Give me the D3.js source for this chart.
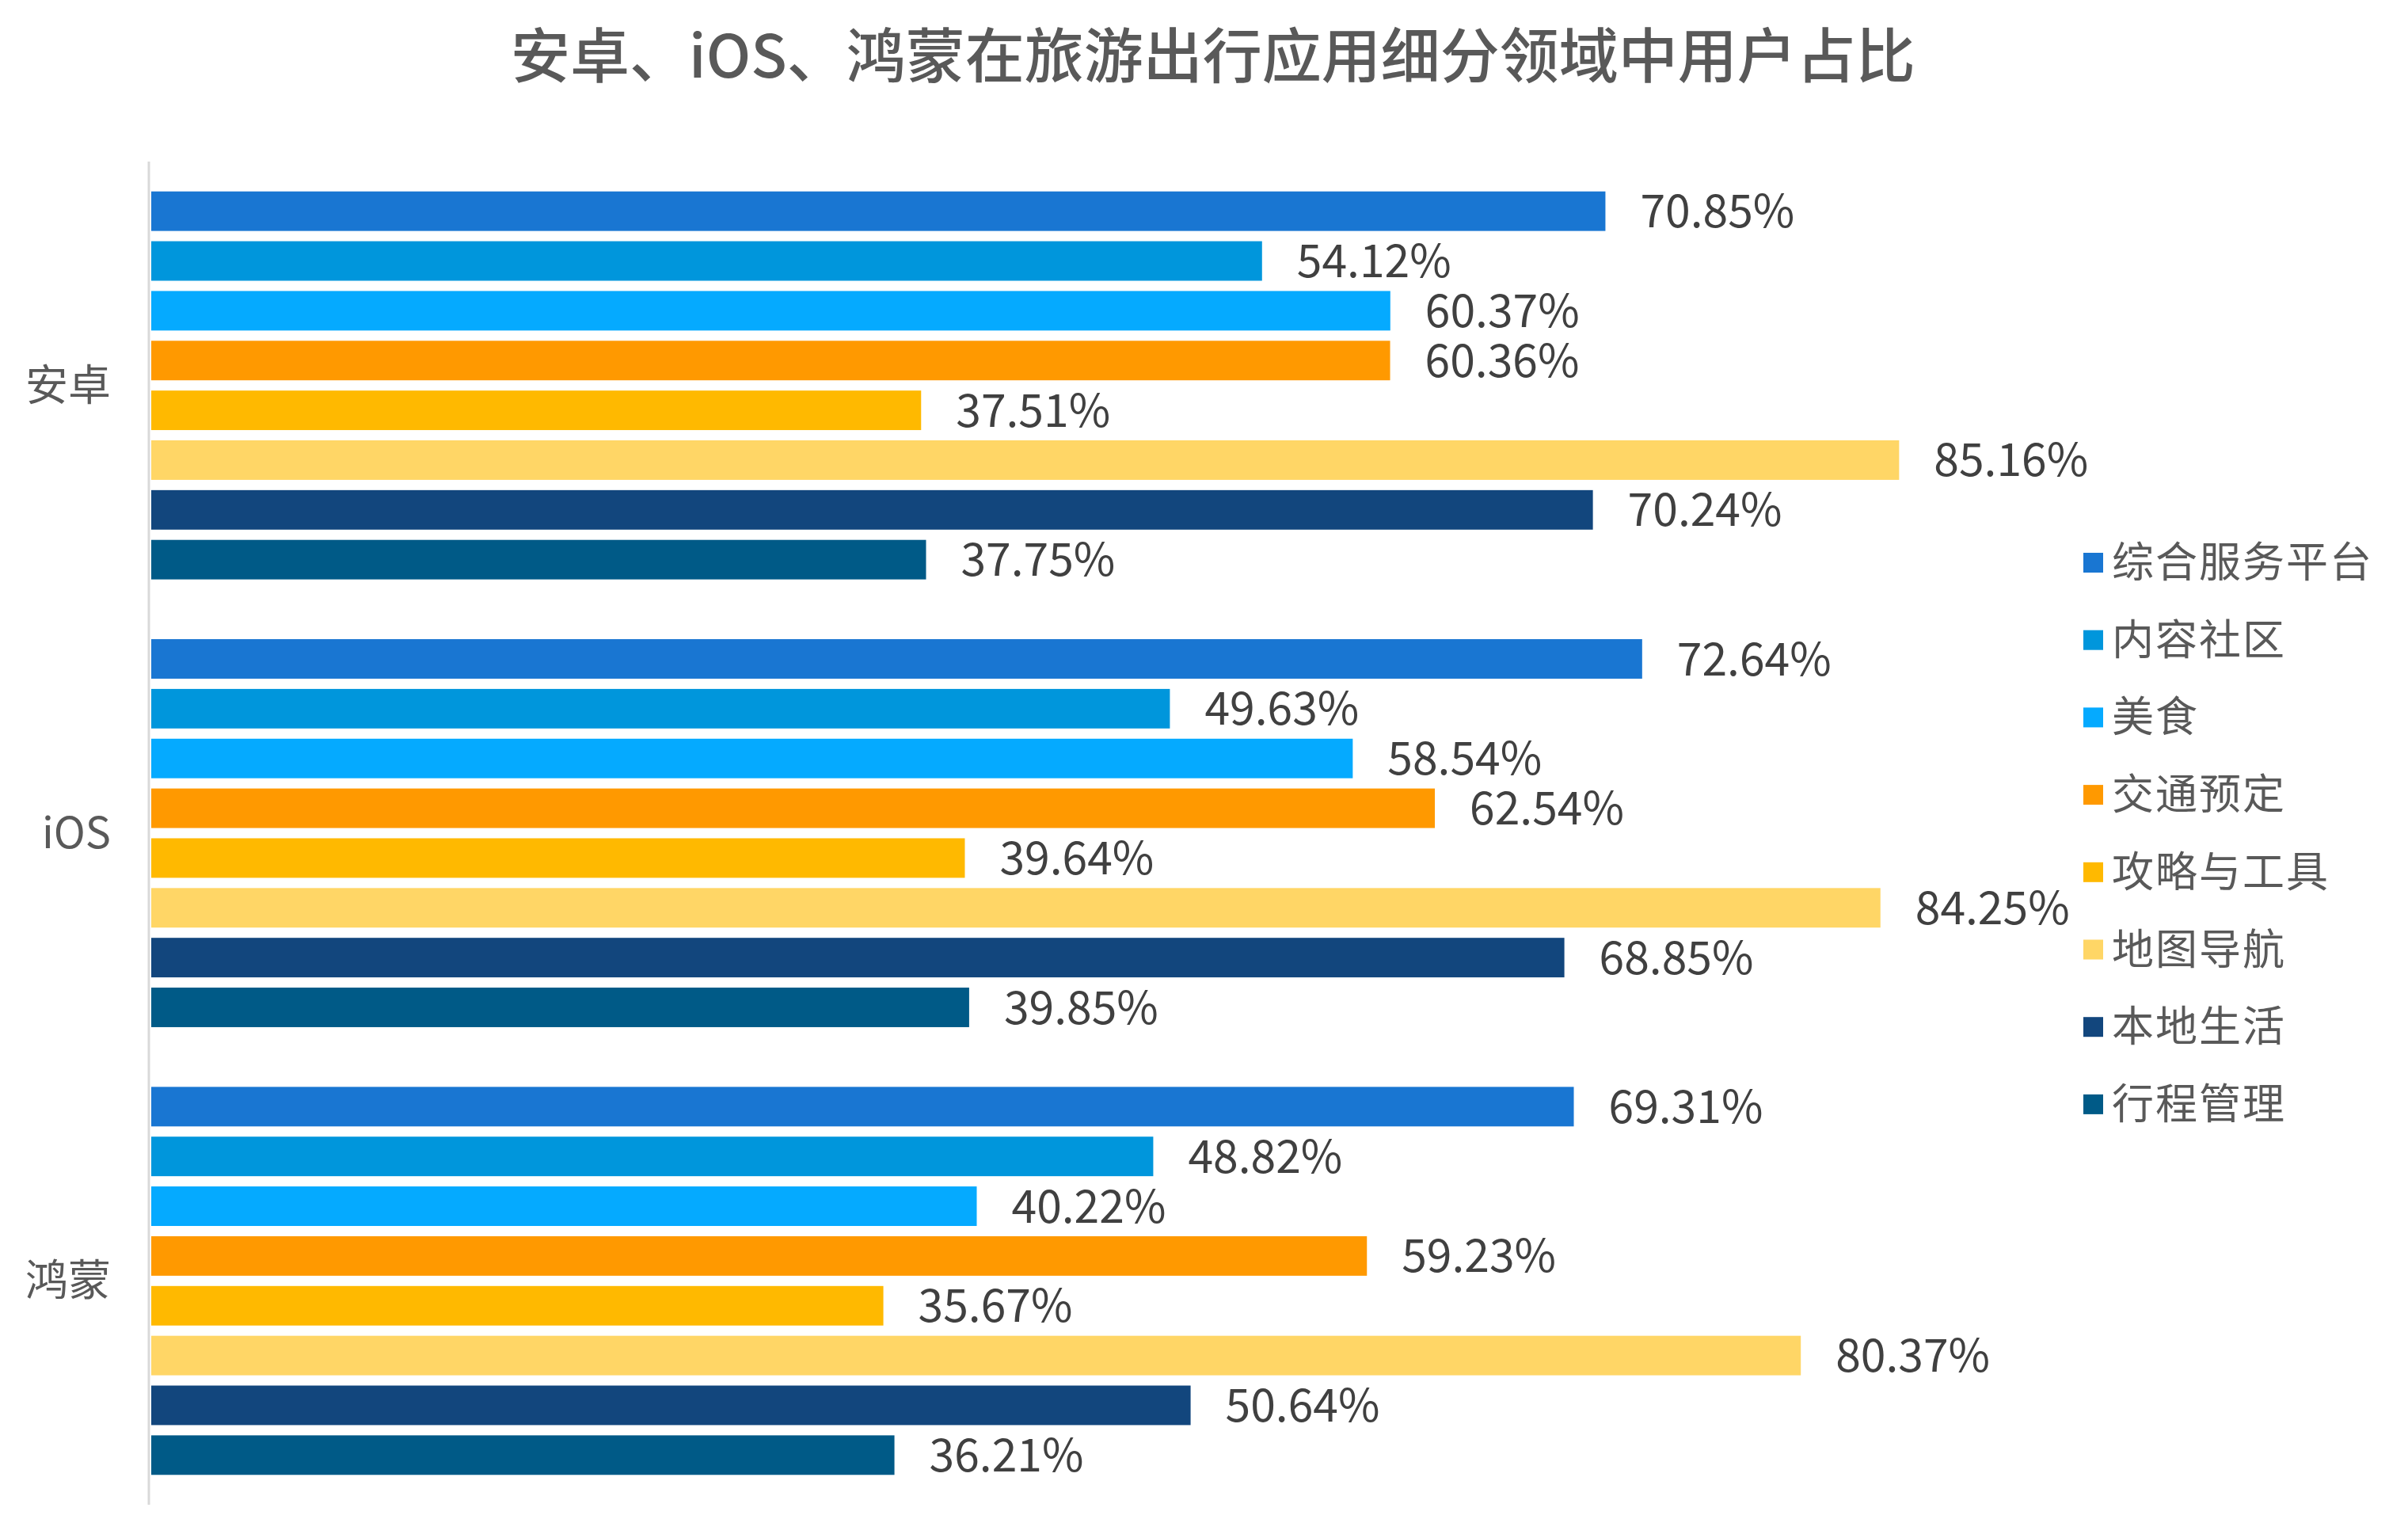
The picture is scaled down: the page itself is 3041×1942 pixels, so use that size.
<!DOCTYPE html>
<meta charset="utf-8">
<title>安卓、iOS、鸿蒙在旅游出行应用细分领域中用户占比</title>
<style>
  body { margin: 0; background: #fff; }
  text { font-family: "Noto Sans CJK SC", "Noto Sans", sans-serif; }
</style>
<body>
<script src="https://d3js.org/d3.v7.min.js"></script>
<script>

const platforms = ["安卓", "iOS", "鸿蒙"];
const segments = ["综合服务平台", "内容社区", "美食", "交通预定", "攻略与工具", "地图导航", "本地生活", "行程管理"];
const android = [70.85, 54.12, 60.37, 60.36, 37.51, 85.16, 70.24, 37.75];
const ios     = [72.64, 49.63, 58.54, 62.54, 39.64, 84.25, 68.85, 39.85];
const harmony = [69.31, 48.82, 40.22, 59.23, 35.67, 80.37, 50.64, 36.21];
const colors = ["#1976d2", "#0096dc", "#05aaff", "#ff9900", "#ffb900", "#ffd666", "#12467d", "#005a87"];

const width = 3041, height = 1942;

const series = [android, ios, harmony];
const rows = [];
platforms.forEach((p, i) => {
  segments.forEach((s, j) => rows.push({platform: p, segment: s, value: series[i][j]}));
});

const svg = d3.select("body").append("svg")
    .attr("width", width)
    .attr("height", height);

// title
svg.append("text")
    .attr("x", 1532)
    .attr("y", 98)
    .attr("text-anchor", "middle")
    .attr("font-size", 75)
    .attr("font-weight", 500)
    .attr("fill", "#595959")
    .text("安卓、iOS、鸿蒙在旅游出行应用细分领域中用户占比");

const x = d3.scaleLinear().domain([0, 100]).range([191, 2783]);
const y0 = d3.scaleBand().domain(platforms).range([204, 1900]);
const y1 = d3.scaleBand().domain(segments).range([0, y0.bandwidth()])
    .paddingInner(0.206).paddingOuter(0.6);

// category axis line
svg.append("line")
    .attr("x1", 188).attr("x2", 188)
    .attr("y1", 204).attr("y2", 1900)
    .attr("stroke", "#d9d9d9")
    .attr("stroke-width", 3);

svg.append("g").selectAll("text")
  .data(platforms)
  .join("text")
    .attr("x", 140)
    .attr("y", d => y0(d) + y0.bandwidth() / 2)
    .attr("dy", "0.35em")
    .attr("text-anchor", "end")
    .attr("font-size", 54)
    .attr("fill", "#595959")
    .text(d => d);

const bars = svg.append("g");
bars.selectAll("rect")
  .data(rows)
  .join("rect")
    .attr("x", x(0))
    .attr("y", d => y0(d.platform) + y1(d.segment))
    .attr("width", d => x(d.value) - x(0))
    .attr("height", y1.bandwidth())
    .attr("fill", d => colors[segments.indexOf(d.segment)]);

bars.selectAll("text")
  .data(rows)
  .join("text")
    .attr("x", d => x(d.value) + 44)
    .attr("y", d => y0(d.platform) + y1(d.segment) + y1.bandwidth() / 2)
    .attr("dy", "0.36em")
    .attr("font-size", 57)
    .attr("fill", "#404040")
    .text(d => d.value.toFixed(2) + "%");

// legend
const legend = svg.append("g")
  .selectAll("g")
  .data(segments)
  .join("g")
    .attr("transform", (d, i) => `translate(2631, ${710 + i * 97.7})`);

legend.append("rect")
    .attr("y", -12)
    .attr("width", 25)
    .attr("height", 25)
    .attr("fill", (d, i) => colors[i]);

legend.append("text")
    .attr("x", 36)
    .attr("dy", "0.36em")
    .attr("font-size", 53)
    .attr("letter-spacing", 2)
    .attr("fill", "#595959")
    .text(d => d);

</script>
</body>
